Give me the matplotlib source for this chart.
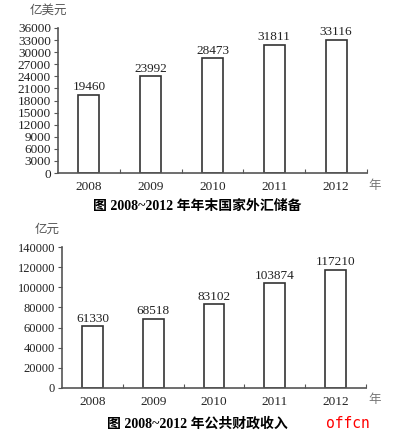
import matplotlib.pyplot as plt

# Data
years = ['2008', '2009', '2010', '2011', '2012']
reserves = [19460, 23992, 28473, 31811, 33116]          # 亿美元
revenue = [61330, 68518, 83102, 103874, 117210]          # 亿元
reserve_ticks = list(range(0, 36001, 3000))
revenue_ticks = list(range(0, 140001, 20000))

plt.rcParams['font.family'] = ['Liberation Serif', 'Noto Sans CJK SC']
cjk = ['Noto Sans CJK SC', 'Liberation Serif']
mixed = ['Liberation Serif', 'Noto Sans CJK SC']

fig = plt.figure(figsize=(3.94, 4.37), dpi=100)


def draw(ax, vals, ticks, ymax, width, fs):
    xs = [i + 0.5 for i in range(len(vals))]
    ax.bar(xs, vals, width=width, facecolor='white', edgecolor='#333333', linewidth=1.2)
    for x, v in zip(xs, vals):
        ax.text(x, v + ymax * 0.012, str(v), ha='center', va='bottom', fontsize=9.5, color='#222222')
    ax.set_xlim(0, 5)
    ax.set_ylim(0, ymax)
    ax.set_yticks(ticks)
    ax.set_yticklabels([str(t) for t in ticks], fontsize=fs, color='#222222')
    ax.set_xticks([1, 2, 3, 4, 5])
    ax.set_xticklabels([])
    ax.set_xticks(xs, minor=True)
    ax.set_xticklabels(years, minor=True, fontsize=9.5, color='#222222')
    ax.tick_params(axis='x', which='major', direction='in', length=3, color='#555555')
    ax.tick_params(axis='x', which='minor', length=0, pad=6)
    ax.tick_params(axis='y', direction='out', length=3, color='#555555', pad=2)
    for s in ['top', 'right']:
        ax.spines[s].set_visible(False)
    for s in ['left', 'bottom']:
        ax.spines[s].set_color('#555555')
        ax.spines[s].set_linewidth(1.2)


ax1 = fig.add_axes([58 / 394, 1 - 173 / 437, (367 - 58) / 394, (173 - 28) / 437])
draw(ax1, reserves, reserve_ticks, 36000, 0.34, 9.5)
fig.text(30 / 394, 1 - 10 / 437, '亿美元', fontsize=9, color='#555555', family=cjk, va='center', ha='left')
fig.text(368 / 394, 1 - 185 / 437, '年', fontsize=9, color='#777777', family=cjk, va='center', ha='left')
fig.text(197 / 394, 1 - 206 / 437, '图 2008~2012 年年末国家外汇储备', fontsize=10, fontweight='bold',
         color='black', family=mixed, va='center', ha='center')

ax2 = fig.add_axes([62 / 394, 1 - 388 / 437, (366 - 62) / 394, (388 - 247) / 437])
draw(ax2, revenue, revenue_ticks, 140000, 0.345, 9)
fig.text(35 / 394, 1 - 229 / 437, '亿元', fontsize=9, color='#555555', family=cjk, va='center', ha='left')
fig.text(368 / 394, 1 - 400 / 437, '年', fontsize=9, color='#777777', family=cjk, va='center', ha='left')
fig.text(197 / 394, 1 - 424 / 437, '图 2008~2012 年公共财政收入', fontsize=10, fontweight='bold',
         color='black', family=mixed, va='center', ha='center')
fig.text(326 / 394, 1 - 424 / 437, 'offcn', fontsize=10.5, color='red', family='DejaVu Sans Mono',
         va='center', ha='left')

fig.savefig('out.png', dpi=100)
